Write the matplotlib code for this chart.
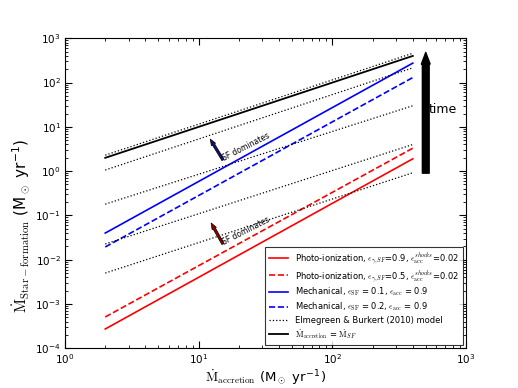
import numpy as np
import matplotlib
matplotlib.use('Agg')
import matplotlib.pyplot as plt

# accretion rate range covered by every model line (Msun/yr)
mdot_acc = [2, 400]

# star formation rate at both ends of the range
photo_eps09 = [2.73e-4, 1.9]
photo_eps05 = [5.1e-4, 3.3]
mech_eps01 = [0.040, 275]
mech_eps02 = [0.0194, 130]
one_to_one = [2, 400]

# Elmegreen & Burkert (2010) model tracks
eb_tracks = [
    [2.3, 460],
    [1.06, 215],
    [0.18, 30],
    [0.0227, 4.0],
    [0.005, 0.92],
]

plt.rcParams['mathtext.fontset'] = 'cm'

fig = plt.figure(figsize=(5.18, 3.88), dpi=100)
ax = fig.add_axes([0.1255, 0.1023, 0.7741, 0.799])

ax.plot(mdot_acc, photo_eps09, color='red', lw=1.2,
        label=r'Photo-ionization, $\epsilon_{\gamma,SF}$=0.9, $\epsilon_{\rm acc}^{shocks}$=0.02')
ax.plot(mdot_acc, photo_eps05, color='red', lw=1.2, ls='--',
        label=r'Photo-ionization, $\epsilon_{\gamma,SF}$=0.5, $\epsilon_{\rm acc}^{shocks}$=0.02')
ax.plot(mdot_acc, mech_eps01, color='blue', lw=1.2,
        label=r'Mechanical, $\epsilon_{\rm SF}$ = 0.1, $\epsilon_{\rm acc}$ = 0.9')
ax.plot(mdot_acc, mech_eps02, color='blue', lw=1.2, ls='--',
        label=r'Mechanical, $\epsilon_{\rm SF}$ = 0.2, $\epsilon_{\rm acc}$ = 0.9')
for i, track in enumerate(eb_tracks):
    ax.plot(mdot_acc, track, color='black', lw=0.9, ls=':',
            label='Elmegreen & Burkert (2010) model' if i == 0 else None)
ax.plot(mdot_acc, one_to_one, color='black', lw=1.3,
        label=r'$\dot{\rm M}_{\rm accretion}$ = $\dot{\rm M}_{SF}$')

ax.set_xscale('log')
ax.set_yscale('log')
ax.set_xlim(1, 1000)
ax.set_ylim(1e-4, 1e3)

ax.tick_params(which='both', direction='in', top=True, right=True, labelsize=7.5)
ax.tick_params(which='major', length=5, pad=3)
ax.tick_params(which='minor', length=2.5)

ax.set_xlabel(r'$\dot{\rm M}_{\rm accretion}$ (M$_\odot$ yr$^{\mathdefault{-1}}$)',
              fontsize=9.5, labelpad=1)
ax.set_ylabel(r'$\dot{\rm M}_{\rm Star-formation}$ (M$_\odot$ yr$^{\mathdefault{-1}}$)',
              fontsize=11)
ax.yaxis.set_label_coords(-0.083, 0.395)

# "SF dominates" markers
sf_arrow = 'simple,head_length=0.45,head_width=0.35,tail_width=0.18'
ax.annotate('', xy=(12.2, 5.3), xytext=(15.2, 1.79),
            arrowprops=dict(arrowstyle=sf_arrow, fc='#101070', ec='black', lw=0.5,
                            mutation_scale=10, shrinkA=0, shrinkB=0))
ax.text(15.8, 1.55, 'SF dominates', fontsize=5.5, rotation=27,
        ha='left', va='bottom', rotation_mode='anchor')
ax.annotate('', xy=(12.4, 0.0675), xytext=(15.2, 0.0227),
            arrowprops=dict(arrowstyle=sf_arrow, fc='#8b0000', ec='black', lw=0.5,
                            mutation_scale=10, shrinkA=0, shrinkB=0))
ax.text(15.8, 0.0196, 'SF dominates', fontsize=5.5, rotation=27,
        ha='left', va='bottom', rotation_mode='anchor')

# time arrow
ax.annotate('', xy=(500, 480), xytext=(500, 0.9),
            arrowprops=dict(arrowstyle='simple,head_length=0.6,head_width=0.45,tail_width=0.35',
                            fc='black', ec='black', mutation_scale=14, shrinkA=0, shrinkB=0))
ax.text(530, 25, 'time', fontsize=9, ha='left', va='center')

leg = ax.legend(loc='lower right', fontsize=6, fancybox=False, edgecolor='black',
                handlelength=2.3, borderaxespad=0.4, labelspacing=0.3, borderpad=0.5)
leg.get_frame().set_linewidth(0.8)

fig.savefig('out.png', dpi=100)
